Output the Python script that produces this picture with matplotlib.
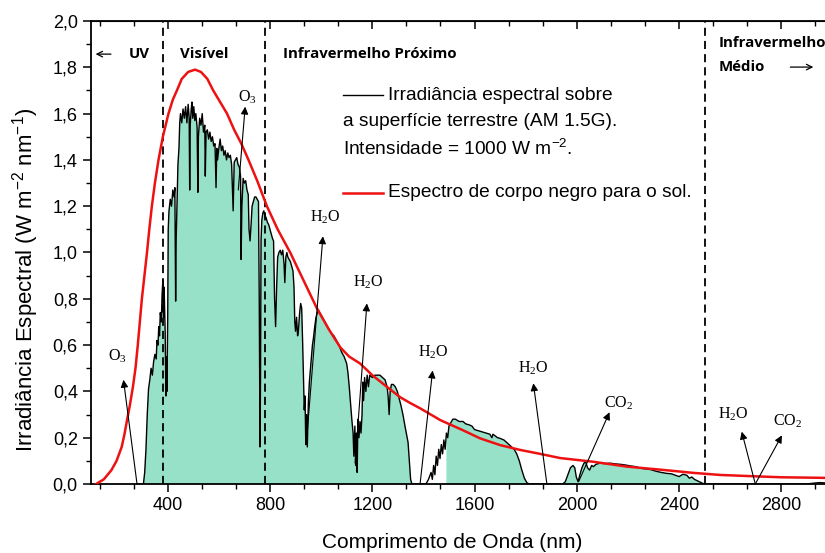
import numpy as np
import matplotlib.pyplot as plt
from matplotlib.ticker import MultipleLocator, FuncFormatter

plt.rcParams['font.family'] = ['Liberation Sans', 'DejaVu Sans']

# espectro AM1.5G
wl = [280, 300, 305, 310, 315, 320, 325, 330, 335, 340, 345, 350, 355, 358, 362, 365, 368, 371, 375, 378,
      381, 384, 386, 390, 393, 395, 397, 400, 402, 405, 410, 415, 420, 425, 428, 430, 431, 433, 436, 440,
      444, 447, 450, 455, 460, 465, 470, 475, 480, 484, 486, 488, 492, 495, 498, 502, 506, 510, 515, 518,
      520, 525, 530, 535, 540, 545, 547, 550, 555, 560, 565, 570, 575, 580, 585, 589, 592, 595, 600, 605,
      610, 615, 620, 625, 630, 635, 640, 645, 650, 656, 660, 665, 670, 675, 680, 685, 687, 690, 695, 700,
      705, 710, 715, 718, 722, 726, 730, 735, 740, 745, 750, 755, 758, 761, 763, 765, 768, 772, 776, 780,
      785, 790, 795, 800, 805, 810, 814, 818, 822, 826, 830, 835, 840, 845, 850, 855, 858, 862, 866, 870,
      875, 880, 885, 890, 894, 897, 900, 904, 908, 911, 916, 920, 924, 928, 931, 934, 937, 940, 943, 946,
      950, 954, 957, 962, 966, 970, 975, 980, 985, 990, 995, 1000, 1010, 1020, 1030, 1040, 1050, 1060, 1070, 1080,
      1090, 1100, 1105, 1110, 1115, 1120, 1125, 1128, 1132, 1135, 1138, 1141, 1144, 1148, 1152, 1156, 1160, 1163, 1166, 1170,
      1175, 1180, 1185, 1190, 1200, 1210, 1220, 1230, 1240, 1250, 1258, 1262, 1266, 1270, 1275, 1282, 1290, 1298, 1305, 1312,
      1320, 1328, 1335, 1340, 1345, 1350, 1355, 1410, 1420, 1430, 1435, 1440, 1445, 1450, 1455, 1460, 1465, 1470, 1475, 1480,
      1485, 1490, 1495, 1500, 1505, 1515, 1525, 1540, 1555, 1565, 1580, 1590, 1600, 1615, 1630, 1645, 1660, 1668, 1672, 1690,
      1700, 1715, 1730, 1745, 1755, 1765, 1775, 1785, 1795, 1805, 1815, 1945, 1955, 1965, 1975, 1985, 1992, 1998, 2005, 2012,
      2020, 2028, 2035, 2042, 2050, 2058, 2065, 2075, 2090, 2110, 2130, 2150, 2170, 2190, 2210, 2230, 2250, 2270, 2290, 2310,
      2330, 2350, 2370, 2390, 2400, 2415, 2430, 2440, 2450, 2460, 2475, 2490, 2500, 2900, 2930, 2950, 2980, 3000]
irr = [0.0, 0.0, 0.0, 0.05, 0.15, 0.30, 0.41, 0.45, 0.50, 0.47, 0.53, 0.56, 0.54, 0.62, 0.60, 0.68, 0.64, 0.74, 0.70, 0.82,
       0.88, 0.72, 0.85, 0.66, 0.38, 0.55, 0.40, 0.72, 1.10, 1.18, 1.23, 1.20, 1.27, 1.24, 1.28, 0.95, 0.79, 1.05, 1.20, 1.38,
       1.45, 1.56, 1.60, 1.56, 1.62, 1.58, 1.63, 1.56, 1.64, 1.58, 1.27, 1.55, 1.62, 1.65, 1.58, 1.63, 1.57, 1.60, 1.54, 1.26,
       1.50, 1.58, 1.55, 1.60, 1.52, 1.55, 1.33, 1.52, 1.53, 1.49, 1.52, 1.48, 1.50, 1.46, 1.47, 1.28, 1.45, 1.40, 1.45, 1.49,
       1.44, 1.46, 1.42, 1.44, 1.40, 1.43, 1.41, 1.42, 1.38, 1.18, 1.39, 1.40, 1.41, 1.38, 1.37, 1.33, 0.97, 1.20, 1.32, 1.30,
       1.31, 1.27, 1.25, 1.10, 1.05, 1.12, 1.20, 1.22, 1.24, 1.24, 1.23, 1.22, 0.80, 0.16, 0.45, 1.05, 1.14, 1.17, 1.18, 1.16,
       1.15, 1.13, 1.12, 1.10, 1.08, 1.06, 1.05, 0.80, 0.68, 0.85, 0.98, 1.00, 1.01, 0.99, 1.01, 0.95, 0.87, 0.98, 1.00, 0.98,
       0.97, 0.96, 0.94, 0.92, 0.85, 0.70, 0.66, 0.72, 0.64, 0.66, 0.74, 0.78, 0.76, 0.60, 0.45, 0.32, 0.38, 0.17, 0.30, 0.16,
       0.35, 0.44, 0.48, 0.55, 0.60, 0.63, 0.68, 0.72, 0.74, 0.75, 0.74, 0.73, 0.71, 0.69, 0.67, 0.65, 0.64, 0.62, 0.60, 0.57,
       0.55, 0.52, 0.48, 0.42, 0.35, 0.28, 0.22, 0.12, 0.25, 0.08, 0.22, 0.05, 0.28, 0.20, 0.27, 0.22, 0.30, 0.44, 0.36, 0.46,
       0.40, 0.47, 0.42, 0.47, 0.46, 0.47, 0.47, 0.47, 0.46, 0.45, 0.42, 0.38, 0.30, 0.40, 0.43, 0.43, 0.42, 0.40, 0.37, 0.34,
       0.30, 0.25, 0.21, 0.18, 0.10, 0.02, 0.0, 0.0, 0.02, 0.05, 0.02, 0.08, 0.04, 0.12, 0.08, 0.15, 0.11, 0.17, 0.13, 0.19,
       0.15, 0.22, 0.20, 0.25, 0.26, 0.28, 0.28, 0.27, 0.27, 0.26, 0.255, 0.25, 0.235, 0.23, 0.225, 0.22, 0.215, 0.20, 0.215, 0.20,
       0.197, 0.19, 0.175, 0.16, 0.15, 0.13, 0.10, 0.06, 0.025, 0.005, 0.0, 0.0, 0.01, 0.04, 0.07, 0.08, 0.07, 0.03, 0.01, 0.04,
       0.07, 0.09, 0.095, 0.07, 0.06, 0.08, 0.075, 0.085, 0.09, 0.088, 0.09, 0.087, 0.085, 0.082, 0.078, 0.075, 0.068, 0.065, 0.062, 0.055,
       0.05, 0.046, 0.044, 0.036, 0.032, 0.042, 0.038, 0.025, 0.03, 0.02, 0.012, 0.004, 0.0, 0.0, 0.004, 0.006, 0.004, 0.004]

# corpo negro
bb_wl = [120, 150, 180, 200, 220, 230, 240, 252, 264, 274, 283, 291, 299, 309, 319, 328, 338, 350, 364, 381,
         403, 420, 436, 455, 480, 507, 530, 555, 578, 605, 632, 660, 688, 716, 750, 788, 830, 879, 918, 957,
         983, 1029, 1075, 1110, 1153, 1200, 1257, 1309, 1348, 1387, 1466, 1553, 1622, 1700, 1779, 1857, 1935, 2065, 2196, 2326,
         2456, 2561, 2700, 2800, 3000]
bb_irr = [0.0, 0.02, 0.06, 0.10, 0.16, 0.21, 0.27, 0.34, 0.42, 0.50, 0.60, 0.70, 0.80, 0.90, 1.00, 1.10, 1.20, 1.30, 1.40, 1.50,
          1.60, 1.66, 1.70, 1.75, 1.78, 1.79, 1.78, 1.75, 1.70, 1.65, 1.60, 1.53, 1.47, 1.40, 1.31, 1.20, 1.10, 1.00, 0.91, 0.82,
          0.76, 0.67, 0.59, 0.55, 0.52, 0.47, 0.42, 0.375, 0.35, 0.327, 0.276, 0.233, 0.197, 0.168, 0.147, 0.13, 0.112, 0.096, 0.075, 0.062,
          0.048, 0.039, 0.033, 0.029, 0.026]

# trechos preenchidos
fill_ranges = [(300, 1355), (1488, 1815), (1945, 2500)]

limites = [380, 780, 2500]

# (texto, posicao do texto, ponta da seta, origem da seta)
moleculas = [
    (r'$\mathregular{O_3}$', (712, 1.67), (703, 1.63), (676, 1.27)),
    (r'$\mathregular{O_3}$', (202, 0.55), (227, 0.45), (280, 0.0)),
    (r'$\mathregular{H_2O}$', (1016, 1.15), (1007, 1.07), (944, 0.20)),
    (r'$\mathregular{H_2O}$', (1185, 0.87), (1179, 0.78), (1133, 0.09)),
    (r'$\mathregular{H_2O}$', (1440, 0.57), (1436, 0.49), (1387, 0.0)),
    (r'$\mathregular{H_2O}$', (1828, 0.50), (1830, 0.435), (1883, 0.0)),
    (r'$\mathregular{CO_2}$', (2165, 0.35), (2128, 0.31), (2007, 0.01)),
    (r'$\mathregular{H_2O}$', (2613, 0.30), (2645, 0.226), (2698, 0.0)),
    (r'$\mathregular{CO_2}$', (2825, 0.27), (2802, 0.21), (2698, 0.0)),
]

wl = np.array(wl)
irr = np.array(irr)

fig = plt.figure(figsize=(8.25, 5.53), dpi=100)
ax = fig.add_axes([0.1103, 0.1248, 0.8988, 0.8372])

mask = np.zeros(len(wl), dtype=bool)
for a, b in fill_ranges:
    mask |= (wl >= a) & (wl <= b)
ax.fill_between(wl, 0, irr, where=mask, color='#97e1c8', lw=0, zorder=1)

for x in limites:
    ax.axvline(x, color='black', ls=(0, (4.5, 2.8)), lw=1.3, zorder=2)

ax.plot(wl, irr, color='black', lw=1.0, zorder=3)
ax.plot(bb_wl, bb_irr, color='#ee1111', lw=1.8, zorder=4)

for txt, tpos, head, tail in moleculas:
    ax.text(tpos[0], tpos[1], txt, family='Liberation Serif', fontsize=11.5, ha='center', va='center', zorder=5)
    ax.annotate('', xy=head, xytext=tail,
                arrowprops=dict(arrowstyle='-|>', color='black', lw=0.8, mutation_scale=11,
                                shrinkA=0, shrinkB=0), zorder=5)

# rotulos das regioes
bold = dict(family=['Open Sans', 'DejaVu Sans'], fontweight='bold', fontsize=10.8, va='center')
ax.annotate('', xy=(118, 1.857), xytext=(178, 1.857),
            arrowprops=dict(arrowstyle='->', lw=0.9, color='black', shrinkA=0, shrinkB=0))
ax.text(246, 1.857, 'UV', **bold)
ax.text(449, 1.857, 'Visível', **bold)
ax.text(852, 1.857, 'Infravermelho Próximo', **bold)
ax.text(2553, 1.905, 'Infravermelho', **bold)
ax.text(2553, 1.801, 'Médio', **bold)
ax.annotate('', xy=(2925, 1.801), xytext=(2835, 1.801),
            arrowprops=dict(arrowstyle='->', lw=0.9, color='black', shrinkA=0, shrinkB=0))

# legenda
leg = dict(fontsize=13.8, va='center')
ax.plot([1087, 1243], [1.68, 1.68], color='black', lw=1.0)
ax.text(1262, 1.68, 'Irradiância espectral sobre', **leg)
ax.text(1087, 1.566, 'a superfície terrestre (AM 1.5G).', **leg)
ax.text(1087, 1.448, r'Intensidade = 1000 W m$\mathregular{^{-2}}$.', **leg)
ax.plot([1087, 1243], [1.259, 1.259], color='#ee1111', lw=1.8)
ax.text(1262, 1.259, 'Espectro de corpo negro para o sol.', **leg)

ax.set_xlim(100, 3000)
ax.set_ylim(0, 2.0)
ax.xaxis.set_major_locator(MultipleLocator(400))
ax.xaxis.set_minor_locator(MultipleLocator(400 / 3))
ax.yaxis.set_major_locator(MultipleLocator(0.2))
ax.yaxis.set_minor_locator(MultipleLocator(0.1))
ax.yaxis.set_major_formatter(FuncFormatter(lambda v, p: f'{v:.1f}'.replace('.', ',')))
ax.tick_params(which='major', length=6, width=1.1, labelsize=13, direction='out')
ax.tick_params(which='minor', length=3.5, width=1.0, direction='out')
for s in ax.spines.values():
    s.set_linewidth(1.3)

top = ax.secondary_xaxis('top')
top.xaxis.set_major_locator(MultipleLocator(400))
top.xaxis.set_minor_locator(MultipleLocator(400 / 3))
top.tick_params(which='major', direction='in', length=6, width=1.1, labeltop=False)
top.tick_params(which='minor', direction='in', length=3.5, width=1.0)
right = ax.secondary_yaxis('right')
right.yaxis.set_major_locator(MultipleLocator(0.2))
right.yaxis.set_minor_locator(MultipleLocator(0.1))
right.tick_params(which='major', direction='in', length=6, width=1.1, labelright=False)
right.tick_params(which='minor', direction='in', length=3.5, width=1.0)

ax.set_xlabel('Comprimento de Onda (nm)', fontsize=15)
ax.xaxis.set_label_coords(0.487, -0.106)
ax.set_ylabel(r'Irradiância Espectral (W m$\mathregular{^{-2}}$ nm$\mathregular{^{-1}}$)', fontsize=16)
ax.yaxis.set_label_coords(-0.068, 0.44)

fig.savefig('out.png', dpi=100)
